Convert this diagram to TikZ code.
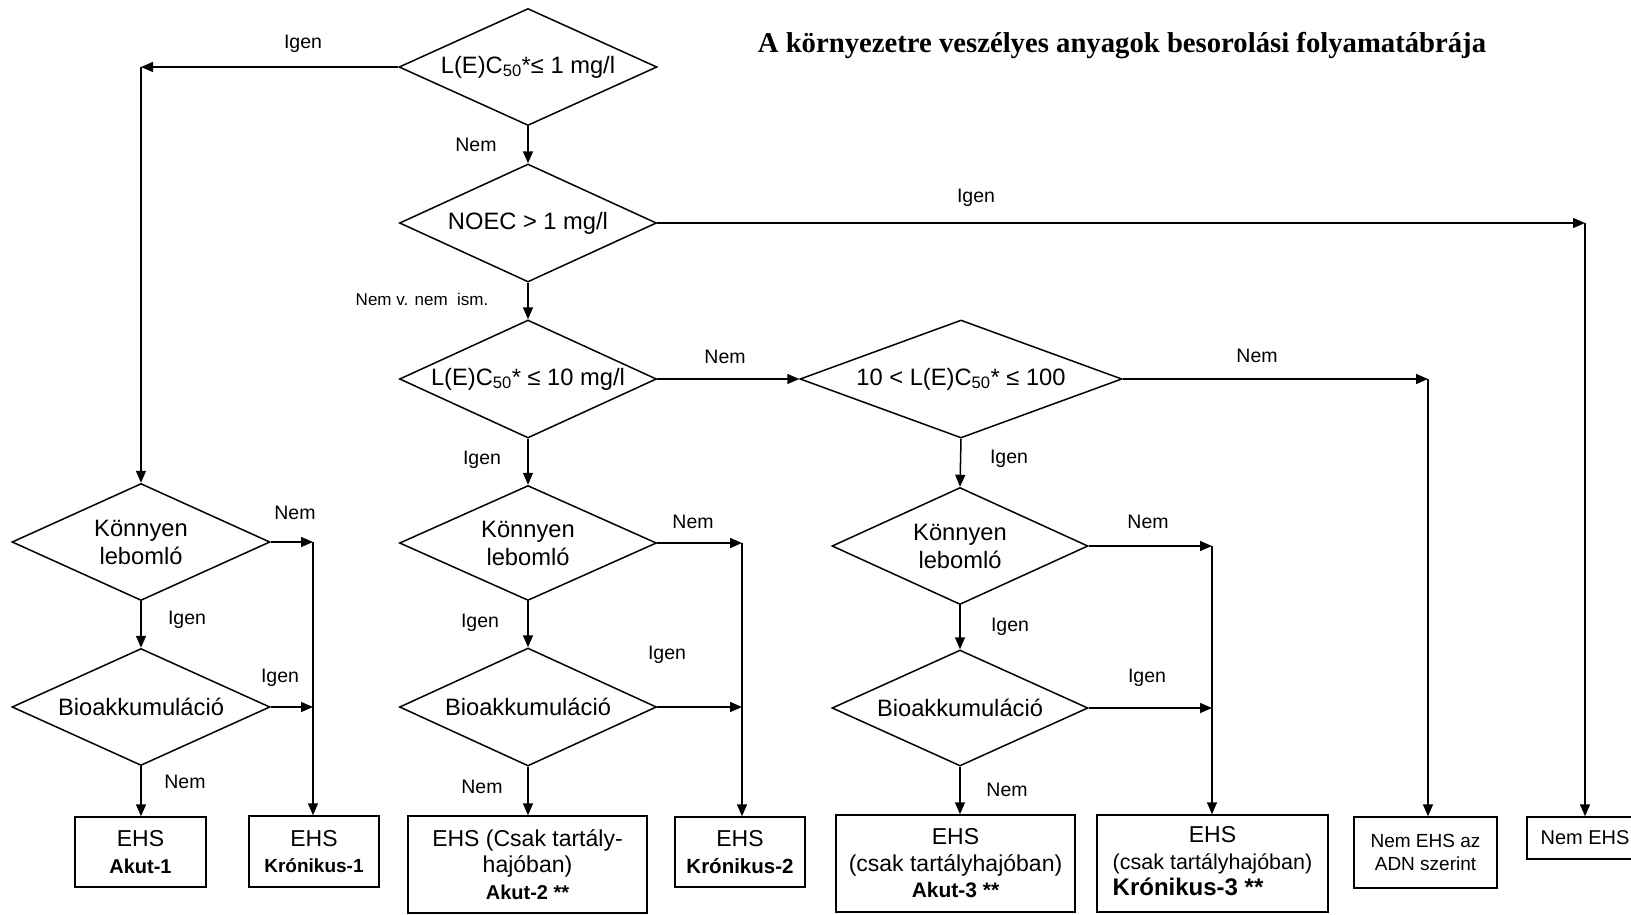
\documentclass[tikz,border=0pt]{standalone}
\usepackage{fontspec}
\setmainfont{Liberation Sans}
\newfontfamily\titlefont{Liberation Serif}
\usetikzlibrary{arrows.meta,shapes.geometric}

\begin{document}
\begin{tikzpicture}[x=1pt,y=-1pt,line width=1.5pt]
  \tikzstyle{DecStyle}=[draw,diamond,aspect=2.2,inner sep=0pt,align=center,font=\fontsize{23.7}{28}\selectfont]
  \tikzstyle{BoxStyle}=[draw,rectangle,inner sep=0pt,align=center,font=\fontsize{23}{26.5}\selectfont]
  \tikzstyle{LabelStyle}=[font=\fontsize{19.5}{22}\selectfont,inner sep=0pt]
  \tikzstyle{EdgeStyle}=[-{Triangle[length=12pt,width=10pt]}]
  \useasboundingbox (0,0) rectangle (1631,914);

  \node[font=\titlefont\bfseries\fontsize{28.7}{32}\selectfont] (title) at (1122,46)
    {A környezetre veszélyes anyagok besorolási folyamatábrája};

  % main decisions
  \node[DecStyle,minimum width=258pt,minimum height=117pt] (D1) at (528,67) {L(E)C\textsubscript{50}*≤ 1 mg/l};
  \node[DecStyle,minimum width=257pt,minimum height=118pt] (D2) at (528,223) {NOEC > 1 mg/l};
  \node[DecStyle,minimum width=257pt,minimum height=118pt] (D3) at (528,379) {L(E)C\textsubscript{50}* ≤ 10 mg/l};
  \node[DecStyle,aspect=2.73,minimum width=322pt,minimum height=118pt] (D4) at (961,379) {10 < L(E)C\textsubscript{50}* ≤ 100};

  % left column
  \node[DecStyle,minimum width=258pt,minimum height=117pt] (L1) at (141,542) {Könnyen\\lebomló};
  \node[DecStyle,minimum width=258pt,minimum height=117pt] (L2) at (141,707) {Bioakkumuláció};
  % middle column
  \node[DecStyle,minimum width=257pt,minimum height=115pt] (M1) at (528,543) {Könnyen\\lebomló};
  \node[DecStyle,minimum width=257pt,minimum height=118pt] (M2) at (528,707) {Bioakkumuláció};
  % right column
  \node[DecStyle,minimum width=256pt,minimum height=117pt] (R1) at (960,546) {Könnyen\\lebomló};
  \node[DecStyle,minimum width=256pt,minimum height=116pt] (R2) at (960,708) {Bioakkumuláció};

  % results
  \node[BoxStyle,minimum width=131pt,minimum height=70pt] (A1) at (140.5,852)
    {EHS\\{\bfseries\fontsize{20}{24}\selectfont Akut-1}};
  \node[BoxStyle,minimum width=130pt,minimum height=71pt] (K1) at (314,851.5)
    {EHS\\{\bfseries\fontsize{19}{24}\selectfont Krónikus-1}};
  \node[BoxStyle,minimum width=239pt,minimum height=97pt] (A2) at (527.5,864.5)
    {EHS (Csak tartály-\\hajóban)\\{\bfseries\fontsize{20}{24}\selectfont Akut-2 **}};
  \node[BoxStyle,minimum width=130pt,minimum height=70pt] (K2) at (740,852)
    {EHS\\{\bfseries\fontsize{20.5}{24}\selectfont Krónikus-2}};
  \node[BoxStyle,minimum width=239pt,minimum height=97pt] (A3) at (955.5,863.5)
    {EHS\\(csak tartályhajóban)\\{\bfseries\fontsize{21}{24}\selectfont Akut-3 **}};
  \node[BoxStyle,minimum width=231pt,minimum height=97pt] (K3) at (1212.5,863.5)
    {EHS\\{\fontsize{21.5}{26.5}\selectfont(csak tartályhajóban)}\\
     {\fontsize{21.5}{26.5}\selectfont\rlap{\bfseries\fontsize{24}{26.5}\selectfont Krónikus-3 **}\phantom{(csak tartályhajóban)}}};
  \node[BoxStyle,minimum width=143pt,minimum height=71pt,font=\fontsize{19}{23}\selectfont] (N1) at (1425.5,852.5)
    {Nem EHS az\\ADN szerint};
  \node[BoxStyle,minimum width=116pt,minimum height=42pt,font=\fontsize{20}{23}\selectfont] (N2) at (1585,838) {Nem EHS};

  % corners
  \coordinate (c1) at (141,67);
  \coordinate (c2) at (1585,223);
  \coordinate (c3) at (1428,379);
  \coordinate (cL) at (313,542);
  \coordinate (cM) at (742,543);
  \coordinate (cR) at (1212,546);

  \draw[EdgeStyle] (D1.west) -- (c1);
  \draw[EdgeStyle] (c1) -- (L1.north);
  \draw[EdgeStyle] (D1.south) -- (D2.north);
  \draw[EdgeStyle] (D2.east) -- (c2);
  \draw[EdgeStyle] (c2) -- (N2.north);
  \draw[EdgeStyle] (D2.south) -- (D3.north);
  \draw[EdgeStyle] (D3.east) -- (D4.west);
  \draw[EdgeStyle] (D4.east) -- (c3);
  \draw[EdgeStyle] (c3) -- (c3 |- N1.north);
  \draw[EdgeStyle] (D3.south) -- (M1.north);
  \draw[EdgeStyle] (D4.south) -- (R1.north);

  \draw[EdgeStyle] (L1.south) -- (L2.north);
  \draw[EdgeStyle] (L1.east) -- (cL);
  \draw[EdgeStyle] (L2.east) -- (L2.east -| cL);
  \draw[EdgeStyle] (cL) -- (cL |- K1.north);
  \draw[EdgeStyle] (L2.south) -- (L2.south |- A1.north);

  \draw[EdgeStyle] (M1.south) -- (M2.north);
  \draw[EdgeStyle] (M1.east) -- (cM);
  \draw[EdgeStyle] (M2.east) -- (M2.east -| cM);
  \draw[EdgeStyle] (cM) -- (cM |- K2.north);
  \draw[EdgeStyle] (M2.south) -- (M2.south |- A2.north);

  \draw[EdgeStyle] (R1.south) -- (R2.north);
  \draw[EdgeStyle] (R1.east) -- (cR);
  \draw[EdgeStyle] (R2.east) -- (R2.east -| cR);
  \draw[EdgeStyle] (cR) -- (cR |- K3.north);
  \draw[EdgeStyle] (R2.south) -- (R2.south |- A3.north);

  % labels
  \node[LabelStyle] (t1) at (303,44) {Igen};
  \node[LabelStyle] (t2) at (476,145) {Nem};
  \node[LabelStyle] (t3) at (976,198) {Igen};
  \node[LabelStyle,font=\fontsize{17}{20}\selectfont] (t4) at (422,299) {Nem v. nem\ \ ism.};
  \node[LabelStyle] (t5) at (725,357) {Nem};
  \node[LabelStyle] (t6) at (1257,356) {Nem};
  \node[LabelStyle] (t7) at (482,460) {Igen};
  \node[LabelStyle] (t8) at (1009,459) {Igen};
  \node[LabelStyle] (tL1) at (295,513) {Nem};
  \node[LabelStyle] (tL2) at (187,620) {Igen};
  \node[LabelStyle] (tL3) at (280,678) {Igen};
  \node[LabelStyle] (tL4) at (185,782) {Nem};
  \node[LabelStyle] (tM1) at (693,522) {Nem};
  \node[LabelStyle] (tM2) at (480,623) {Igen};
  \node[LabelStyle] (tM3) at (667,655) {Igen};
  \node[LabelStyle] (tM4) at (482,787) {Nem};
  \node[LabelStyle] (tR1) at (1148,522) {Nem};
  \node[LabelStyle] (tR2) at (1010,627) {Igen};
  \node[LabelStyle] (tR3) at (1147,678) {Igen};
  \node[LabelStyle] (tR4) at (1007,790) {Nem};
\end{tikzpicture}
\end{document}
